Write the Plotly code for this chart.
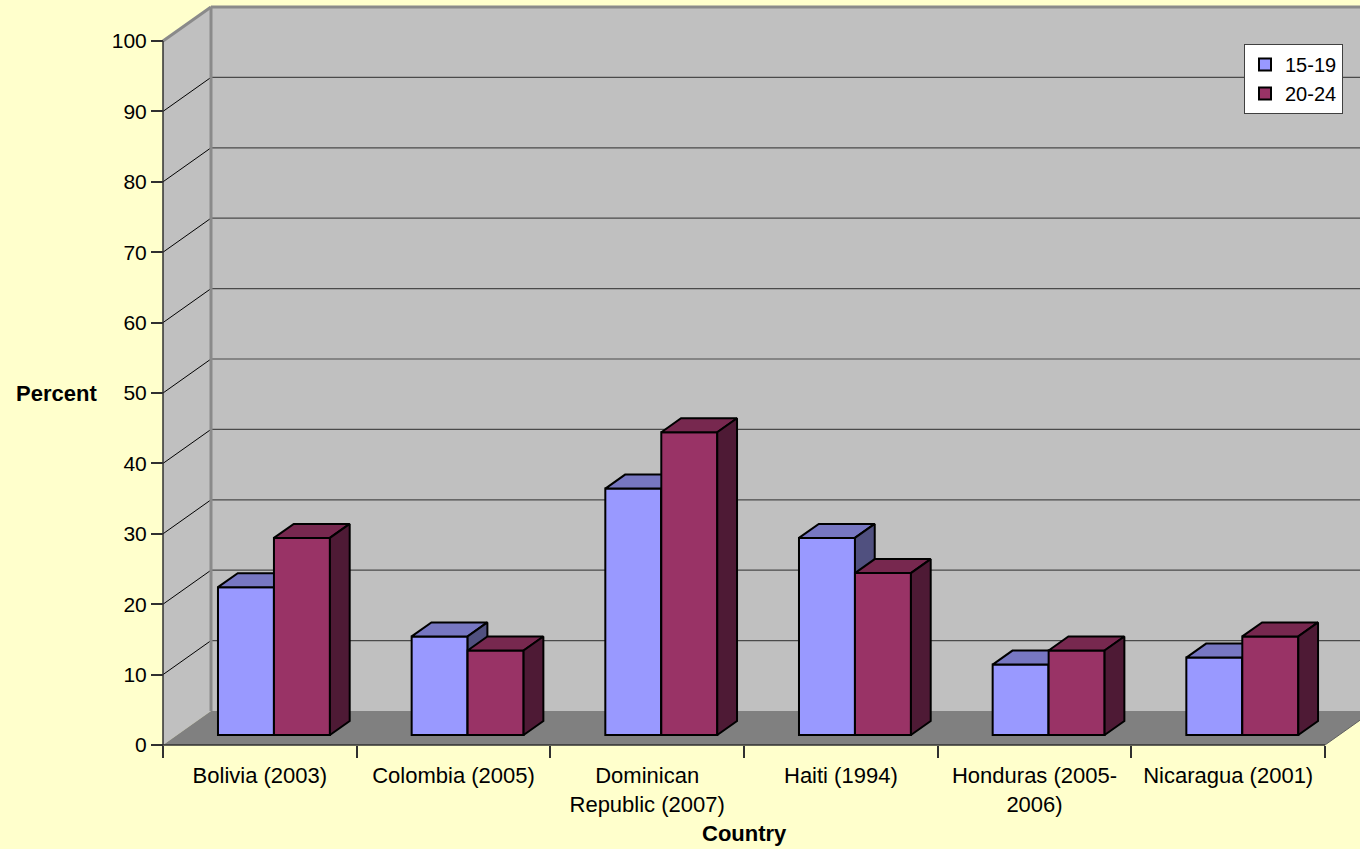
import plotly.graph_objects as go

# ---- data -------------------------------------------------------------
countries = [
    "Bolivia (2003)",
    "Colombia (2005)",
    "Dominican<br>Republic (2007)",
    "Haiti (1994)",
    "Honduras (2005-<br>2006)",
    "Nicaragua (2001)",
]
series_names = ["15-19", "20-24"]
age_15_19 = [21, 14, 35, 28, 10, 11]
age_20_24 = [28, 12, 43, 23, 12, 14]
y_ticks = list(range(0, 101, 10))

# ---- geometry of the pseudo-3D frame -----------------------------------
W, H = 1360, 849
ML, MB = 150, 89                 # plot area: x 150..1360, y 0..760
CAT_PX = 193.67                  # pixels per category
UNIT_PX = 7.04                   # pixels per percent
AXIS_X_PX, AXIS_Y_PX = 163, 745  # front-left corner of the floor
plot_w, plot_h = W - ML, H - MB

x_min = -0.5 - (AXIS_X_PX - ML) / CAT_PX
x_max = -0.5 + (W - AXIS_X_PX) / CAT_PX
y_min = -(plot_h - AXIS_Y_PX) / UNIT_PX
y_max = AXIS_Y_PX / UNIT_PX

DX = 48 / CAT_PX                 # full depth shift, x units
DY = 34 / UNIT_PX                # full depth shift, y units
T_FRONT, T_BACK = 10 / 34, 24 / 34
BAR_W = 0.289
n = len(countries)
left_edge, right_edge = -0.5, n - 0.5
top_val = y_ticks[-1]

front_colors = ["#9999FF", "#993366"]
top_colors = ["#7777C2", "#77284F"]
side_colors = ["#50507F", "#4E1A35"]

base_val = DY * T_FRONT
shift_x = DX * T_FRONT
depth_dx = DX * (T_BACK - T_FRONT)
depth_dy = DY * (T_BACK - T_FRONT)
offsets = [shift_x - BAR_W, shift_x]


def faces(values, offset):
    """Top and side face polygons of each column, joined with gaps."""
    tx, ty, sx, sy = [], [], [], []
    for i, v in enumerate(values):
        xl = i + offset
        xr = xl + BAR_W
        yb = base_val
        yt = base_val + v
        tx += [xl, xr, xr + depth_dx, xl + depth_dx, xl, None]
        ty += [yt, yt, yt + depth_dy, yt + depth_dy, yt, None]
        sx += [xr, xr, xr + depth_dx, xr + depth_dx, xr, None]
        sy += [yb, yt, yt + depth_dy, yb + depth_dy, yb, None]
    return tx, ty, sx, sy


fig = go.Figure()
axis_pairs = [("x", "y"), ("x2", "y2")]
for k, (name, vals) in enumerate(zip(series_names, [age_15_19, age_20_24])):
    xa, ya = axis_pairs[k]
    fig.add_trace(go.Bar(
        x=list(range(n)), y=vals, base=base_val, name=name,
        width=BAR_W, offset=offsets[k],
        marker=dict(color=front_colors[k], line=dict(color="black", width=2)),
        xaxis=xa, yaxis=ya,
        hovertemplate="%{customdata}<br>" + name + ": %{y}%<extra></extra>",
        customdata=[c.replace("<br>", " ") for c in countries],
    ))
    tx, ty, sx, sy = faces(vals, offsets[k])
    for px, py, col in [(tx, ty, top_colors[k]), (sx, sy, side_colors[k])]:
        fig.add_trace(go.Scatter(
            x=px, y=py, mode="lines", fill="toself", fillcolor=col,
            line=dict(color="black", width=2), showlegend=False,
            hoverinfo="skip", xaxis=xa, yaxis=ya,
        ))

# ---- walls, floor and grid --------------------------------------------
shapes = []
# back wall
shapes.append(dict(type="rect", x0=left_edge + DX, x1=x_max + 0.5, y0=DY, y1=top_val + DY,
                   fillcolor="#C0C0C0", line=dict(width=0), layer="below"))
# left wall
shapes.append(dict(type="path",
                   path=f"M{left_edge},0 L{left_edge},{top_val} L{left_edge + DX},{top_val + DY} "
                        f"L{left_edge + DX},{DY} Z",
                   fillcolor="#C0C0C0", line=dict(width=0), layer="below"))
# floor
shapes.append(dict(type="path",
                   path=f"M{left_edge},0 L{left_edge + DX},{DY} L{right_edge + DX},{DY} "
                        f"L{right_edge},0 Z",
                   fillcolor="#808080", line=dict(width=0), layer="below"))
# gridlines on the back and left walls
for v in y_ticks[1:-1]:
    shapes.append(dict(type="line", x0=left_edge + DX, x1=x_max + 0.5, y0=v + DY, y1=v + DY,
                       line=dict(color="#4A4A4A", width=1.2), layer="below"))
    shapes.append(dict(type="line", x0=left_edge, x1=left_edge + DX, y0=v, y1=v + DY,
                       line=dict(color="black", width=1), layer="below"))
# wall edges
for (ax0, ay0, ax1, ay1) in [
    (left_edge, top_val, left_edge + DX, top_val + DY),
    (left_edge + DX, top_val + DY, x_max + 0.5, top_val + DY),
    (left_edge + DX, DY, left_edge + DX, top_val + DY),
]:
    shapes.append(dict(type="line", x0=ax0, y0=ay0, x1=ax1, y1=ay1,
                       line=dict(color="#8A8A8A", width=3), layer="below"))
# front axis lines
shapes.append(dict(type="line", x0=left_edge, x1=left_edge, y0=0, y1=top_val,
                   line=dict(color="#303030", width=1.5), layer="below"))
shapes.append(dict(type="line", x0=left_edge, x1=right_edge, y0=0, y1=0,
                   line=dict(color="#303030", width=1.5), layer="below"))
# right edge of floor
shapes.append(dict(type="line", x0=right_edge, x1=right_edge + DX, y0=0, y1=DY,
                   line=dict(color="#606060", width=1), layer="below"))

FONT = "Liberation Sans, Arial, sans-serif"

fig.update_layout(
    width=W, height=H,
    margin=dict(l=ML, r=0, t=0, b=MB, pad=0),
    paper_bgcolor="#FFFFCC", plot_bgcolor="#FFFFCC",
    font=dict(family=FONT, size=21, color="black"),
    barmode="overlay",
    shapes=shapes,
    showlegend=True,
    legend=dict(
        x=(1244 - ML) / plot_w, y=(plot_h - 44) / plot_h,
        xanchor="left", yanchor="top",
        bgcolor="white", bordercolor="#404040", borderwidth=1,
        font=dict(size=20), itemwidth=30, tracegroupgap=0,
    ),
    xaxis=dict(
        range=[x_min, x_max], anchor="free",
        position=(plot_h - AXIS_Y_PX) / plot_h,
        tickmode="array", tickvals=list(range(n)), ticktext=countries,
        tickfont=dict(size=22),
        ticks="", showline=False, showgrid=False, zeroline=False,
        ticklabelstandoff=15,
        minor=dict(tickmode="array", tickvals=[i - 0.5 for i in range(n + 1)],
                   ticks="outside", ticklen=12, tickcolor="#303030", tickwidth=1.5,
                   showgrid=False),
        fixedrange=True,
    ),
    yaxis=dict(
        range=[y_min, y_max], anchor="free",
        position=(AXIS_X_PX - ML) / plot_w,
        tickmode="array", tickvals=y_ticks,
        ticks="outside", ticklen=12, tickcolor="#303030", tickwidth=1.5,
        showline=False, showgrid=False, zeroline=False,
        fixedrange=True,
    ),
    xaxis2=dict(range=[x_min, x_max], overlaying="x", visible=False, fixedrange=True),
    yaxis2=dict(range=[y_min, y_max], overlaying="y", visible=False, fixedrange=True),
    annotations=[
        dict(text="<b>Percent</b>", xref="paper", yref="paper",
             x=(56 - ML) / plot_w, y=(plot_h - 394) / plot_h,
             xanchor="center", yanchor="middle", showarrow=False,
             font=dict(size=22)),
        dict(text="<b>Country</b>", xref="x", yref="paper",
             x=(n - 1) / 2, y=(plot_h - 833) / plot_h,
             xanchor="center", yanchor="middle", showarrow=False,
             font=dict(size=22)),
    ],
)

fig.write_html("out.html")
